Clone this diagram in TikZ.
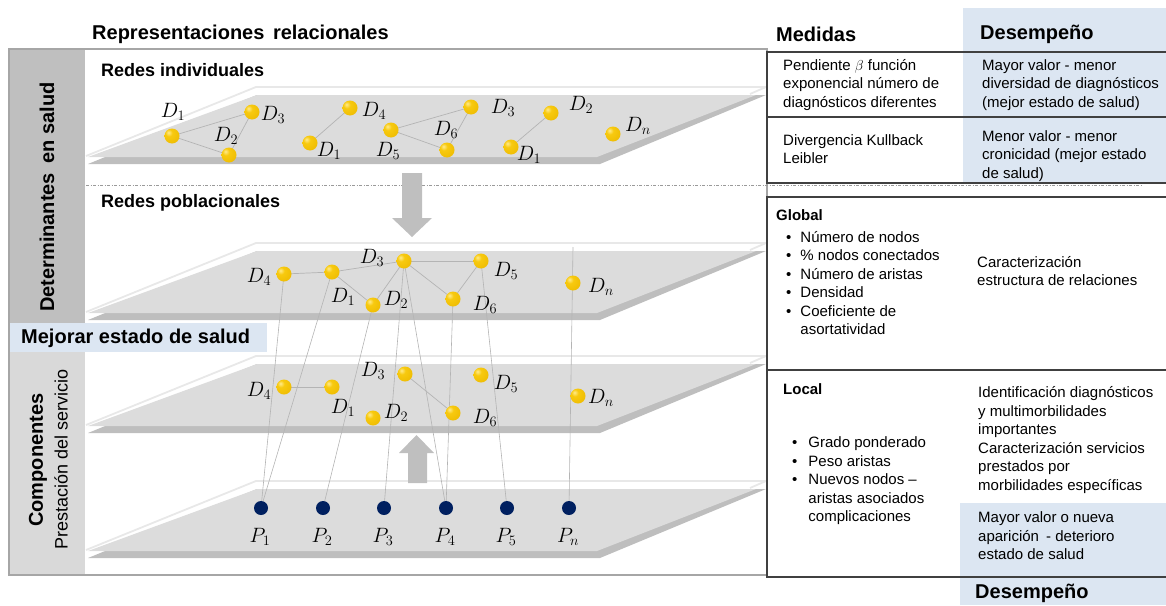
\documentclass[tikz,border=0pt]{standalone}
\usepackage[no-math]{fontspec}
\setmainfont{Liberation Sans}
\usetikzlibrary{calc}
\definecolor{colTop}{HTML}{BFBFBF}
\definecolor{colBot}{HTML}{D9D9D9}
\definecolor{paleBlue}{HTML}{DCE6F2}
\definecolor{planeFace}{HTML}{DCDCDC}
\definecolor{planeEdge}{HTML}{BEBEBE}
\definecolor{planeRim}{HTML}{E8E8E8}
\definecolor{linkGray}{HTML}{B4B4B4}
\definecolor{navyDot}{HTML}{002060}
\definecolor{frameGray}{HTML}{A6A6A6}
\definecolor{tabLine}{HTML}{404040}
\definecolor{arrowGray}{HTML}{BFBFBF}
\definecolor{dotLine}{HTML}{9A9A9A}
% golden sphere used for the diagnosis nodes
\pgfdeclareradialshading{goldball}{\pgfpoint{-12bp}{12bp}}{%
  rgb(0bp)=(1,0.92,0.55); rgb(12bp)=(0.97,0.79,0.06); rgb(40bp)=(0.93,0.73,0);
  rgb(60bp)=(0.80,0.60,0); rgb(100bp)=(0.80,0.60,0)}
\pgfdeclarelayer{back}
\pgfdeclarelayer{mid}
\pgfsetlayers{back,mid,main}
\newcommand\fs[2]{\fontsize{#1}{#2}\selectfont}
\begin{document}
\begin{tikzpicture}[x=1pt,y=-1pt,
  face/.style={fill=planeFace},
  slabstrip/.style={fill=planeEdge},
  rim/.style={draw=planeRim, line width=1.8pt, line join=round},
  dball/.style={circle, minimum size=15pt, inner sep=0pt, shading=goldball},
  pball/.style={circle, minimum size=14pt, inner sep=0pt, fill=navyDot},
  dlab/.style={inner sep=0pt, font=\fs{22}{24}},
  link/.style={draw=linkGray, line width=0.7pt},
  riser/.style={draw=linkGray, line width=0.6pt},
  hdr/.style={anchor=west, inner sep=0pt, font=\bfseries\fs{20}{24}},
  subhdr/.style={anchor=west, inner sep=0pt, font=\bfseries\fs{18}{22}},
  cell/.style={anchor=west, inner sep=0pt, align=left, font=\fs{15}{18.5}},
  cellhdr/.style={anchor=west, inner sep=0pt, font=\bfseries\fs{15}{18.5}},
  tab/.style={draw=tabLine, line width=1.3pt},
  blockarrow/.style={fill=arrowGray},
]
\useasboundingbox (0,0) rectangle (1166,605);

\begin{pgfonlayer}{back}
  % shaded column for the performance scale
  \fill[paleBlue] (963,8) rectangle (1166,183);
  \fill[paleBlue] (960,503) rectangle (1166,605);
  % left column and its bands
  \fill[colTop] (9,49) rectangle (85,323);
  \fill[paleBlue] (9,323) rectangle (267,352);
  \fill[colBot] (9,352) rectangle (85,575);
  \draw[frameGray, line width=1.2pt] (9,49) rectangle (767,575);
  % separator between individual and population networks
  \draw[dotLine, line width=0.8pt, dash pattern=on 3pt off 1.5pt on 1pt off 1.5pt] (86,185) -- (1143,185);
  % the four network planes
  \foreach \d in {0,156,269,394}{
    \begin{scope}[shift={(0,\d)}]
      \draw[rim] (86,156) -- (256,87) -- (766,87) -- (750,94);
      \fill[slabstrip] (88,164) -- (600,164) -- (766,95) -- (257,95) -- cycle;
      \fill[face] (88,157) -- (597,157) -- (756,95) -- (257,95) -- cycle;
    \end{scope}
  }
\end{pgfonlayer}

% flow arrows
\fill[blockarrow] (402,173) -- (422,173) -- (422,218) -- (432,218) -- (412,237) -- (392,218) -- (402,218) -- cycle;
\fill[blockarrow] (408,483) -- (427,483) -- (427,453) -- (434,453) -- (416.5,435) -- (399,453) -- (408,453) -- cycle;

% headings
\node[hdr] (hrep) at (92,34) {Representaciones\hspace{3pt} relacionales};
\node[hdr] (hmed) at (776,34) {Medidas};
\node[hdr] (hdes) at (980,34) {Desempeño};
\node[hdr] (hdesb) at (975,593) {Desempeño};
\node[subhdr] (hind) at (101,70) {Redes individuales};
\node[subhdr] (hpob) at (101,203) {Redes poblacionales};

% left column labels
\node[inner sep=0pt, rotate=90, font=\bfseries\fs{20}{24}] (det) at (47,197) {Determinantes\hspace{4pt} en salud};
\node[hdr] (mej) at (21,338) {Mejorar estado de salud};
\node[inner sep=0pt, rotate=90, font=\bfseries\fs{20}{24}] (comp) at (38,460) {Componentes};
\node[inner sep=0pt, rotate=90, font=\fs{18}{22}] (prest) at (61,459) {Prestación del servicio};

% individual networks
\foreach \n/\x/\y in {a1/172/136, a3/252/112, a2/229/155, b4/350/108, b1/310/143,
                      c5/391/130, c6/447/150, c3/471/107, d2/551/113, d1/511/147, dn/613/134}
  \node[dball] (\n) at (\x,\y) {};
\foreach \n/\x/\y/\t in {la1/173/112/1, la3/273/115/3, la2/226/136/2, lb4/374/111/4, lb1/329/151/1,
                         lc5/388/151/5, lc6/446/130/6, lc3/503/108/3, ld2/581/105/2, ld1/529/155/1, ldn/638/126/n}
  \node[dlab] (\n) at (\x,\y) {$D_{\t}$};

% population network
\foreach \n/\x/\y in {e4/284/274, e1/332/272, e2/373/305, e3/404/261, e5/481/261, e6/453/299, en/573/283}
  \node[dball] (\n) at (\x,\y) {};
\foreach \n/\x/\y/\t in {le4/259/277/4, le1/343/297/1, le2/396/300/2, le3/372/258/3,
                         le5/506/271/5, le6/485/305/6, len/601/287/n}
  \node[dlab] (\n) at (\x,\y) {$D_{\t}$};

% service components network
\foreach \n/\x/\y in {f4/284/387, f1/332/387, f2/373/418, f3/405/374, f5/481/375, f6/453/413, fn/578/396}
  \node[dball] (\n) at (\x,\y) {};
\foreach \n/\x/\y/\t in {lf4/259/391/4, lf1/343/408/1, lf2/396/413/2, lf3/373/371/3,
                         lf5/506/384/5, lf6/485/418/6, lfn/601/398/n}
  \node[dlab] (\n) at (\x,\y) {$D_{\t}$};

% providers
\foreach \n/\x/\t in {p1/261/1, p2/323/2, p3/384/3, p4/446/4, p5/507/5, pn/569/n}{
  \node[pball] (\n) at (\x,508) {};
  \node[dlab] (l\n) at (\x-1,537) {$P_{\t}$};
}
\coordinate (ntop) at (573,247);

\begin{pgfonlayer}{mid}
  \foreach \u/\v in {a1/a3, a1/a2, a2/a3, b4/b1, c5/c3, c5/c6, c6/c3, d2/d1,
                     e4/e1, e1/e3, e1/e2, e2/e3, e3/e5, e3/e6, e6/e5,
                     f4/f1, f3/f6}
    \draw[link] (\u.center) -- (\v.center);
  \foreach \u/\v in {p1/e4, p1/e1, p2/e2, p3/e3, p4/e3, p4/e6, p5/e5, pn/ntop}
    \draw[riser] (\u.center) -- (\v.center);
\end{pgfonlayer}

% measures table: individual networks
\draw[tab] (1166,52) -- (767,52) -- (767,183) -- (1166,183);
\draw[tab] (767,117) -- (1166,117);
\node[cell] (m1) at (783,85) {Pendiente $\beta$ función\\exponencial número de\\diagnósticos diferentes};
\node[cell] (r1) at (982,85) {Mayor valor - menor\\diversidad de diagnósticos\\(mejor estado de salud)};
\node[cell] (m2) at (783,149) {Divergencia Kullback\\Leibler};
\node[cell] (r2) at (982,156) {Menor valor - menor\\cronicidad (mejor estado\\de salud)};

% measures table: population networks
\draw[tab] (1166,197) -- (767,197) -- (767,577) -- (1166,577);
\draw[tabLine, line width=1.8pt] (767,370) -- (1166,370);
\node[cellhdr] (glob) at (776,215) {Global};
\node[cell] (glist) at (786,285) {\begin{tabular}{@{}l@{\hspace{9pt}}l@{}}
  •&Número de nodos\\ •&\% nodos conectados\\ •&Número de aristas\\
  •&Densidad\\ •&Coeficiente de\\ &asortatividad\end{tabular}};
\node[cell] (gr) at (977,271) {Caracterización\\estructura de relaciones};
\node[cellhdr] (loc) at (783,389) {Local};
\node[cell] (llist) at (792,481) {\begin{tabular}{@{}l@{\hspace{11pt}}l@{}}
  •&Grado ponderado\\ •&Peso aristas\\ •&Nuevos nodos --\\
  &aristas asociados\\ &complicaciones\end{tabular}};
\node[cell] (lr) at (978,440) {Identificación diagnósticos\\y multimorbilidades\\importantes\\Caracterización servicios\\prestados por\\morbilidades específicas};
\node[cell] (lp) at (978,536) {Mayor valor o nueva\\aparición\hspace{3pt} - deterioro\\estado de salud};
\end{tikzpicture}
\end{document}
